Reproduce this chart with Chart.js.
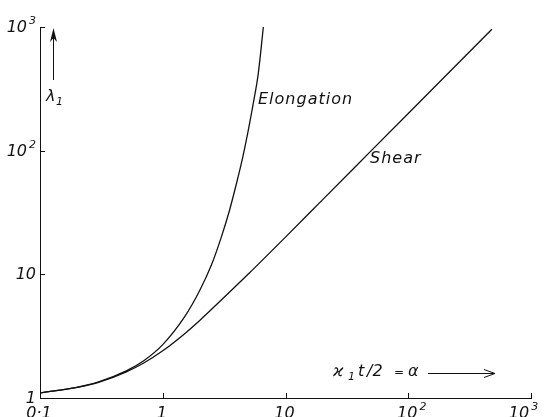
<!DOCTYPE html>
<html><head><meta charset="utf-8">
<script src="https://cdn.jsdelivr.net/npm/chart.js@4/dist/chart.umd.min.js"></script>
<style>html,body{margin:0;padding:0;background:#fff}#wrap{width:546px;height:417px}</style>
</head><body><div id="wrap"><canvas id="c" width="546" height="417"></canvas></div>
<script>
const elongX = [0.1,0.2,0.3,0.5,0.7,1,1.5,2,2.5,3,3.5,4,4.5,5,5.5,6,6.6];
const elongY = [1.1,1.22,1.35,1.65,2.0,2.7,4.5,7.4,12,20,33,55,90,150,250,420,1000];
const shearX = [0.1,0.2,0.3,0.5,0.7,1,1.5,2,3,5,10,20,50,100,200,480];
const shearY = [1.1,1.22,1.34,1.62,1.92,2.41,3.3,4.24,6.2,10.1,20,40,100,200,400,960];
const xTicks = [0.1,1,10,100,1000];
const xTickLabels = [["0·1",""],["1",""],["10",""],["10","2"],["10","3"]];
const yTicks = [1,10,100,1000];
const yTickLabels = [["1",""],["10",""],["10","2"],["10","3"]];
const seriesLabels = ["Elongation","Shear"];

const FONT = 'italic 16px "DejaVu Sans"';
const SUP = 'italic 11px "DejaVu Sans"';

function pts(xs, ys){ return xs.map((x,i)=>({x:x,y:ys[i]})); }

const overlay = {
  id:'overlay',
  afterDraw(chart){
    const ctx = chart.ctx, xs = chart.scales.x, ys = chart.scales.y, a = chart.chartArea;
    ctx.save();
    ctx.strokeStyle='#111'; ctx.fillStyle='#111'; ctx.lineWidth=1;
    // inward ticks
    xTicks.forEach(v=>{ const p=Math.round(xs.getPixelForValue(v))+0.5; ctx.beginPath(); ctx.moveTo(p,a.bottom); ctx.lineTo(p,a.bottom-5); ctx.stroke(); });
    yTicks.forEach(v=>{ const p=Math.round(ys.getPixelForValue(v))+0.5; ctx.beginPath(); ctx.moveTo(a.left,p); ctx.lineTo(a.left+5,p); ctx.stroke(); });
    // x tick labels
    ctx.textBaseline='middle';
    xTicks.forEach((v,i)=>{
      let p=xs.getPixelForValue(v); const [b,s]=xTickLabels[i];
      if(i===xTicks.length-1) p-=11;
      ctx.font=FONT; ctx.textAlign='center'; ctx.fillText(b,p-1,a.bottom+16);
      if(s){ const w=ctx.measureText(b).width; ctx.font=SUP; ctx.textAlign='left'; ctx.fillText(s,p-1+w/2+2,a.bottom+9); }
    });
    // y tick labels
    yTicks.forEach((v,i)=>{
      const p=ys.getPixelForValue(v); const [b,s]=yTickLabels[i];
      let right=a.left-4;
      if(s){ ctx.font=SUP; ctx.textAlign='right'; ctx.fillText(s,right,p-6); right-=ctx.measureText(s).width+2; }
      ctx.font=FONT; ctx.textAlign='right'; ctx.fillText(b,right,p+1);
    });
    // x axis title
    ctx.textAlign='left';
    const ty=372;
    ctx.font=FONT; ctx.fillText("ϰ",333,ty);
    ctx.font=SUP; ctx.fillText("1",348,ty+5);
    ctx.font=FONT; ctx.fillText("t",358,ty);
    ctx.fillText("/2",367,ty);
    ctx.font='italic 12px "DejaVu Sans"'; ctx.fillText("=",394,ty+1);
    ctx.font=FONT; ctx.fillText("α",408,ty);
    // arrow
    ctx.beginPath(); ctx.moveTo(428,373.5); ctx.lineTo(494,373.5); ctx.stroke();
    ctx.beginPath(); ctx.moveTo(484,369.5); ctx.lineTo(495,373.5); ctx.lineTo(484,377.5); ctx.stroke();
    // y axis title: arrow up + lambda
    ctx.beginPath(); ctx.moveTo(53.5,80); ctx.lineTo(53.5,36); ctx.stroke();
    ctx.beginPath(); ctx.moveTo(50,42); ctx.lineTo(53.5,28); ctx.lineTo(57,42); ctx.lineTo(53.5,38); ctx.closePath(); ctx.fill();
    ctx.font=FONT; ctx.textAlign='left'; ctx.fillText("λ",46,97);
    ctx.font=SUP; ctx.fillText("1",56,102);
    // series labels
    ctx.font=FONT;
    try{ ctx.letterSpacing='1px'; }catch(e){}
    ctx.fillText(seriesLabels[0],258,100);
    ctx.fillText(seriesLabels[1],370,159);
    ctx.restore();
  }
};

new Chart(document.getElementById('c'),{
  type:'scatter',
  data:{datasets:[
    {label:seriesLabels[0],data:pts(elongX,elongY),showLine:true,borderColor:'#111',borderWidth:1.3,pointRadius:0,cubicInterpolationMode:'monotone',clip:false},
    {label:seriesLabels[1],data:pts(shearX,shearY),showLine:true,borderColor:'#111',borderWidth:1.3,pointRadius:0,cubicInterpolationMode:'monotone',clip:false}
  ]},
  options:{
    responsive:false,animation:false,
    layout:{padding:{left:40,right:15,top:27,bottom:19}},
    plugins:{legend:{display:false},tooltip:{enabled:false}},
    scales:{
      x:{type:'logarithmic',min:0.1,max:1000,grid:{display:false,drawTicks:false},ticks:{display:false},border:{display:true,color:'#111',width:1}},
      y:{type:'logarithmic',min:1,max:1000,grid:{display:false,drawTicks:false},ticks:{display:false},border:{display:true,color:'#111',width:1}}
    }
  },
  plugins:[overlay]
});
</script></body></html>
